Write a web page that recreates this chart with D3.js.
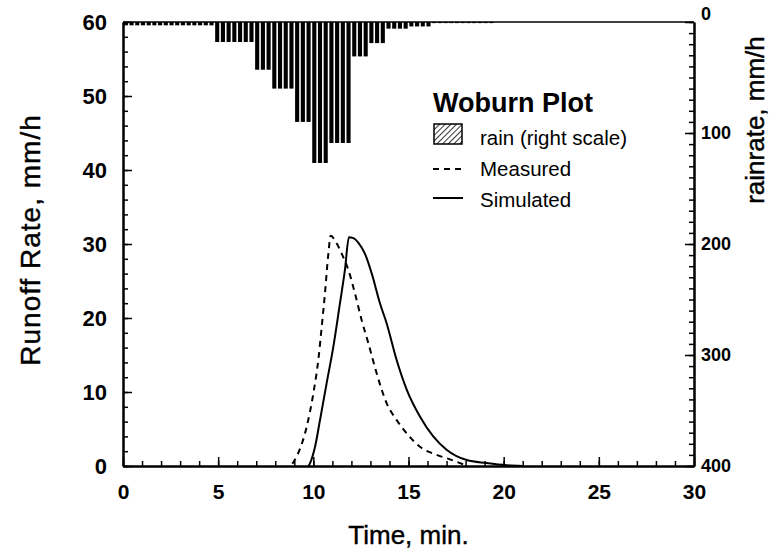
<!DOCTYPE html>
<html>
<head>
<meta charset="utf-8">
<script src="https://cdn.jsdelivr.net/npm/d3@7"></script>
<style>
body{margin:0;background:#fff}
svg text{font-family:"Liberation Sans",Arial,Helvetica,sans-serif}
</style>
</head>
<body>
<svg id="chart"></svg>
<script>
const width=777;
const height=554;
const margin={top:22,right:83,bottom:88,left:123};

// rain intensity, one bar every 0.3 min, mm/h (right axis, hanging from top)
const rainStep=0.3;
const rain=[3,3,3,3,3,3,3,3,3,3,3,3,3,3,3,3,
	18,18,18,18,18,18,18,
	43,43,43,
	60,60,60,60,
	90,90,90,
	127,127,127,
	109,109,109,109,
	31,31,31,
	19,19,19,
	6,6,6,6,
	4,4,4,4,
	1,1,1,1,1,1,1,1,1,1,1];

// measured runoff (dashed)
const measuredTime=[8.9,9.2,9.65,10.0,10.26,10.44,10.61,10.79,10.91,11.2,11.49,11.84,12.19,12.54,12.89,13.33,13.85,14.38,14.91,15.6,16.48,17.18,18.0];
const measuredRate=[0.3,1.7,5.3,9.8,14.3,18.8,23.3,28.7,31.1,30.2,28.7,26.5,23.3,19.7,16.6,12.5,8.5,6.2,4.4,2.6,1.5,0.9,0.1];

// simulated runoff (solid)
const simulatedTime=[9.75,9.83,10.09,10.35,10.7,11.05,11.4,11.66,11.87,12.1,12.36,12.71,13.07,13.5,13.85,14.38,14.91,15.6,16.3,17.0,18.06,19.1,20.16,21.0];
const simulatedRate=[0,0.4,2.6,6.2,11.2,16.1,22.0,26.5,30.9,30.8,30.2,28.7,26.0,22.0,19.3,14.3,10.3,6.7,4.0,2.2,0.8,0.4,0.1,0];

const xTicks=[0,5,10,15,20,25,30];
const yTicks=[0,10,20,30,40,50,60];
const rainTicks=[0,100,200,300,400];

const svg=d3.select('#chart')
	.attr('width',width)
	.attr('height',height);

const x=d3.scaleLinear().domain([0,30]).range([margin.left,width-margin.right]);
const y=d3.scaleLinear().domain([0,60]).range([height-margin.bottom,margin.top]);
const yRain=d3.scaleLinear().domain([0,400]).range([margin.top,height-margin.bottom]);

const defs=svg.append('defs');
defs.append('pattern')
	.attr('id','hatch')
	.attr('patternUnits','userSpaceOnUse')
	.attr('width',4).attr('height',4)
	.attr('patternTransform','rotate(45)')
	.append('line')
	.attr('x1',0).attr('y1',0).attr('x2',0).attr('y2',4)
	.attr('stroke','#000').attr('stroke-width',1.6);

// rain bars
const barW=x(rainStep)-x(0);
svg.append('g')
	.selectAll('rect')
	.data(rain)
	.enter().append('rect')
	.attr('x',(d,i)=>x(i*rainStep)+0.8)
	.attr('y',yRain(0))
	.attr('width',barW-1.6)
	.attr('height',d=>yRain(d)-yRain(0))
	.attr('fill','#000');

// runoff lines
const line=d3.line()
	.x(d=>x(d[0]))
	.y(d=>y(d[1]))
	.curve(d3.curveMonotoneX);

svg.append('path')
	.datum(d3.zip(measuredTime,measuredRate))
	.attr('d',line)
	.attr('fill','none')
	.attr('stroke','#000')
	.attr('stroke-width',2)
	.attr('stroke-dasharray','6,5');

svg.append('path')
	.datum(d3.zip(simulatedTime,simulatedRate))
	.attr('d',line)
	.attr('fill','none')
	.attr('stroke','#000')
	.attr('stroke-width',2);

// top border
svg.append('line')
	.attr('x1',x(0)).attr('x2',x(30))
	.attr('y1',margin.top).attr('y2',margin.top)
	.attr('stroke','#000').attr('stroke-width',1.5);

function styleAxis(g,size){
	g.select('.domain').attr('stroke-width',2);
	g.selectAll('.tick line').attr('stroke-width',1.5);
	g.selectAll('text')
		.attr('font-family','"Liberation Sans",Arial,sans-serif')
		.attr('font-size',size)
		.attr('font-weight','bold')
		.attr('fill','#000');
}

// bottom axis
svg.append('g')
	.attr('transform','translate(0,'+(height-margin.bottom)+')')
	.call(d3.axisBottom(x).tickValues(d3.range(0,31,1)).tickSize(-5).tickSizeOuter(0).tickFormat(''))
	.call(g=>styleAxis(g,21));
svg.append('g')
	.attr('transform','translate(0,'+(height-margin.bottom)+')')
	.call(d3.axisBottom(x).tickValues(xTicks).tickSize(-9).tickSizeOuter(0).tickPadding(18).tickFormat(d3.format('d')))
	.call(g=>styleAxis(g,21));

// left axis
svg.append('g')
	.attr('transform','translate('+margin.left+',0)')
	.call(d3.axisLeft(y).tickValues(d3.range(0,61,2)).tickSize(-5).tickSizeOuter(0).tickFormat(''))
	.call(g=>styleAxis(g,22));
svg.append('g')
	.attr('transform','translate('+margin.left+',0)')
	.call(d3.axisLeft(y).tickValues(yTicks).tickSize(-9).tickSizeOuter(0).tickPadding(16).tickFormat(d3.format('d')))
	.call(g=>styleAxis(g,22));

// right axis (rain)
svg.append('g')
	.attr('transform','translate('+(width-margin.right)+',0)')
	.call(d3.axisRight(yRain).tickValues(d3.range(0,401,10)).tickSize(-5).tickSizeOuter(0).tickFormat(''))
	.call(g=>styleAxis(g,18));
const rightAxis=svg.append('g')
	.attr('transform','translate('+(width-margin.right)+',0)')
	.call(d3.axisRight(yRain).tickValues(rainTicks).tickSize(-9).tickSizeOuter(0).tickPadding(7).tickFormat(d3.format('d')))
	.call(g=>styleAxis(g,18));
rightAxis.selectAll('.tick').filter(d=>d===0).select('text').attr('y',-8);

// axis titles
svg.append('text')
	.attr('x',(x(0)+x(30))/2)
	.attr('y',544)
	.attr('text-anchor','middle')
	.attr('font-size',26)
	.attr('stroke','#000').attr('stroke-width',0.4)
	.text('Time, min.');

svg.append('text')
	.attr('transform','translate(40,'+(y(30)-4)+') rotate(-90)')
	.attr('text-anchor','middle')
	.attr('font-size',28)
	.attr('letter-spacing',1)
	.attr('stroke','#000').attr('stroke-width',0.4)
	.text('Runoff Rate, mm/h');

svg.append('text')
	.attr('transform','translate(764,120) rotate(-90)')
	.attr('text-anchor','middle')
	.attr('font-size',26)
	.attr('stroke','#000').attr('stroke-width',0.4)
	.text('rainrate, mm/h');

// legend
const legend=svg.append('g').attr('transform','translate(433,0)');
legend.append('text')
	.attr('x',0).attr('y',112)
	.attr('font-size',27)
	.attr('font-weight','bold')
	.text('Woburn Plot');
legend.append('rect')
	.attr('x',1).attr('y',124)
	.attr('width',28).attr('height',20)
	.attr('fill','url(#hatch)')
	.attr('stroke','#000').attr('stroke-width',1.5);
legend.append('line')
	.attr('x1',0).attr('x2',32).attr('y1',169).attr('y2',169)
	.attr('stroke','#000').attr('stroke-width',2).attr('stroke-dasharray','6,5');
legend.append('line')
	.attr('x1',0).attr('x2',30).attr('y1',198).attr('y2',198)
	.attr('stroke','#000').attr('stroke-width',2);
legend.selectAll('text.item')
	.data(['rain (right scale)','Measured','Simulated'])
	.enter().append('text')
	.attr('class','item')
	.attr('x',47)
	.attr('y',(d,i)=>145+i*31)
	.attr('font-size',20.5)
	.text(d=>d);
</script>
</body>
</html>
